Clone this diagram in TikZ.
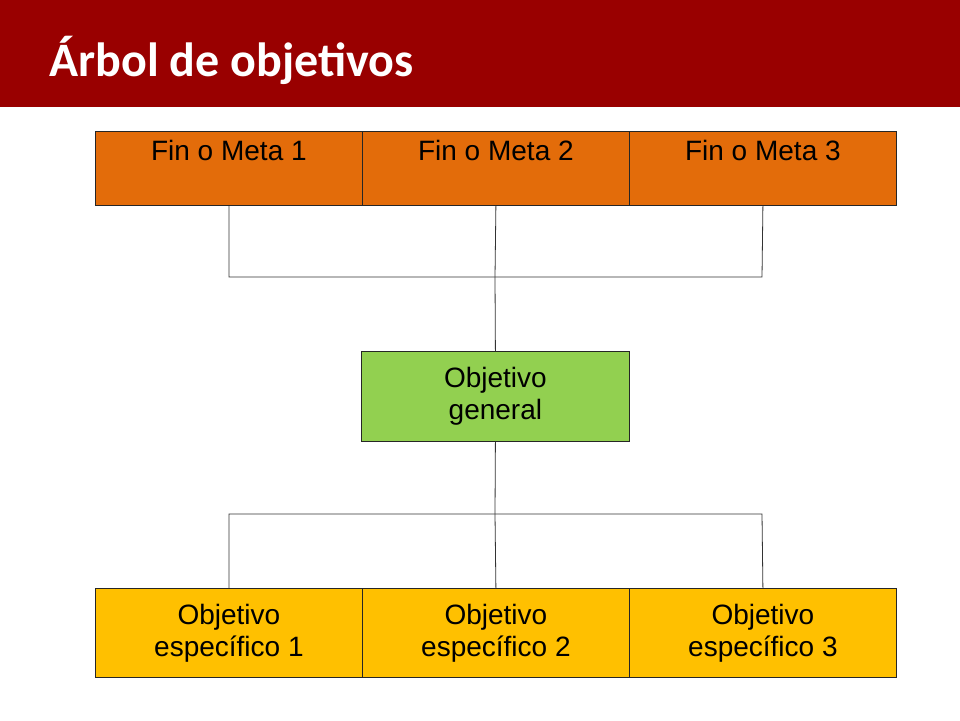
\documentclass[tikz,border=0pt]{standalone}
\usepackage{fontspec}
\setmainfont{Liberation Sans}
\newfontfamily\titlefont{Carlito}
\definecolor{barred}{HTML}{990000}
\definecolor{finor}{HTML}{E36C0A}
\definecolor{objgr}{HTML}{92D050}
\definecolor{objye}{HTML}{FFC000}
\begin{document}
\begin{tikzpicture}[x=1pt,y=-1pt,
  cell/.style={draw=black!85,line width=0.8pt,minimum width=267pt,inner sep=0pt,align=center,font=\fontsize{28}{34}\selectfont},
  fin/.style={cell,fill=finor,minimum height=74pt,anchor=north west,text depth=38pt,text height=22pt},
  esp/.style={cell,fill=objye,minimum height=89pt,anchor=north west},
  conn/.style={draw=black!80,line width=0.8pt}]
\useasboundingbox (0,0) rectangle (960,720);
\fill[barred] (0,0) rectangle (960,107);
\node[anchor=base west,text=white,font=\titlefont\bfseries\fontsize{48}{56}\selectfont] (title) at (46,76) {Árbol de objetivos};
\node[fin] (f1) at (95,131) {Fin o Meta 1};
\node[fin] (f2) at (362,131) {Fin o Meta 2};
\node[fin] (f3) at (629,131) {Fin o Meta 3};
\node[cell,fill=objgr,minimum width=268pt,minimum height=90pt,anchor=north west] (g) at (361,351) {Objetivo\\[-2pt]general};
\node[esp] (e1) at (95,588) {Objetivo\\[-2pt]específico 1};
\node[esp] (e2) at (362,588) {Objetivo\\[-2pt]específico 2};
\node[esp] (e3) at (629,588) {Objetivo\\[-2pt]específico 3};
\coordinate (a1) at (229,277); \coordinate (a3) at (762,277); \coordinate (a2) at (495,277);
\coordinate (b1) at (229,514); \coordinate (b3) at (762,514); \coordinate (b2) at (495,514);
\draw[conn] (f1.south) -- (a1) -- (a3) -- (f3.south);
\draw[conn] (f2.south) -- (a2) -- (g.north);
\draw[conn] (g.south) -- (b2) -- (e2.north);
\draw[conn] (e1.north) -- (b1) -- (b3) -- (e3.north);
\end{tikzpicture}
\end{document}
